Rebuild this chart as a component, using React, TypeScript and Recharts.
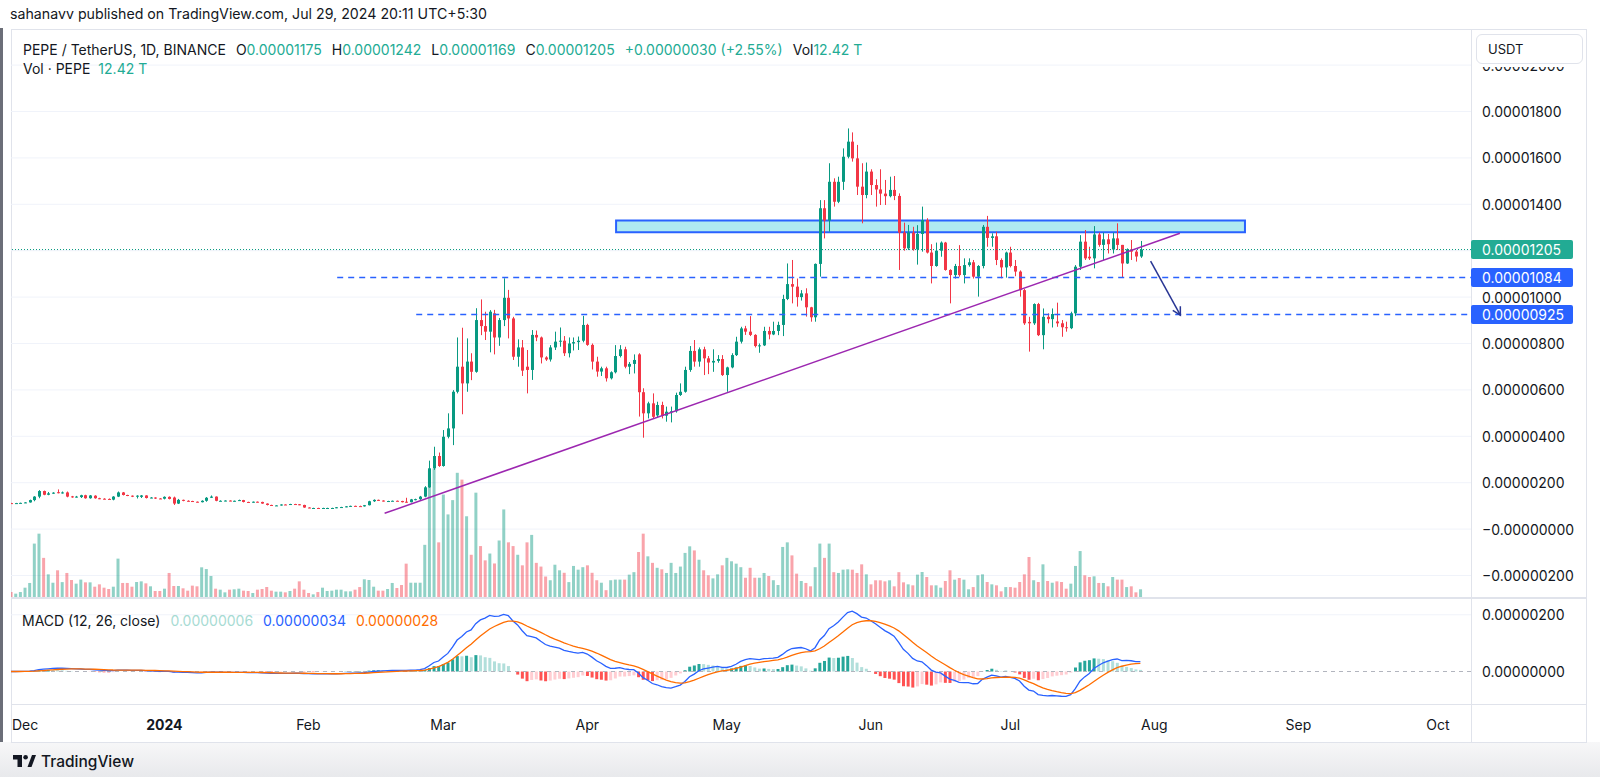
import React from 'react';
import { ComposedChart, Bar, Line, XAxis, YAxis, CartesianGrid, ReferenceLine, ReferenceArea, Cell } from 'recharts';

const FONT = 'Inter, "Noto Sans", sans-serif';
const TEXT = '#131722';
const UP = '#089981';
const DOWN = '#f23645';
const TEAL_TXT = '#22ab94';
const GRID = '#f0f3fa';
const BORDER = '#e0e3eb';

// One candle per day. Day numbers count from 2024-01-01, first candle is 2023-11-29.
// Prices are in units of 0.00000001 USDT, volume in trillions of PEPE.
const firstDay = -33;

const opens = [
  112, 111, 112, 113, 115, 125, 140, 164, 148, 154, 159, 155, 158, 141, 139, 138, 146, 133, 144, 133,
  131, 130, 127, 140, 158, 147, 144, 140, 139, 145, 134, 136, 132, 131, 139, 136, 110, 126, 122, 121,
  118, 116, 122, 135, 140, 122, 122, 123, 121, 122, 125, 117, 115, 118, 117, 110, 104, 101, 102, 106,
  105, 108, 107, 104, 93, 91, 91, 90, 90, 91, 91, 94, 95, 98, 100, 99, 98, 103, 120, 126,
  123, 120, 121, 122, 121, 118, 116, 127, 129, 140, 180, 262, 315, 272, 398, 434, 592, 700, 628, 722,
  678, 901, 875, 851, 930, 826, 901, 997, 908, 743, 783, 700, 686, 837, 826, 740, 731, 783, 808, 812,
  758, 800, 806, 812, 880, 794, 722, 679, 693, 650, 676, 746, 775, 700, 712, 753, 590, 499, 542, 490,
  535, 489, 504, 508, 578, 592, 686, 768, 722, 775, 736, 718, 725, 733, 664, 697, 750, 808, 865, 851,
  837, 789, 792, 854, 839, 854, 880, 992, 1056, 1045, 1000, 1016, 956, 913, 1143, 1383, 1330, 1497, 1411, 1497,
  1605, 1670, 1598, 1476, 1440, 1541, 1483, 1464, 1446, 1435, 1462, 1436, 1278, 1210, 1278, 1206, 1272, 1332, 1192, 1134,
  1200, 1235, 1117, 1095, 1134, 1095, 1138, 1150, 1088, 1134, 1303, 1255, 1262, 1160, 1128, 1192, 1134, 1110, 1030, 893,
  887, 970, 836, 915, 905, 895, 887, 870, 866, 930, 1131, 1239, 1174, 1167, 1270, 1225, 1249, 1205, 1253, 1225,
  1145, 1206, 1196, 1175,
];
const highs = [
  113, 113, 114, 116, 127, 142, 168, 166, 160, 159, 171, 162, 162, 143, 143, 148, 148, 147, 146, 135,
  133, 132, 142, 162, 160, 148, 145, 146, 147, 146, 138, 137, 134, 141, 141, 140, 130, 127, 124, 122,
  119, 124, 138, 145, 141, 124, 124, 124, 123, 127, 126, 118, 119, 119, 118, 111, 105, 103, 107, 107,
  109, 109, 108, 105, 94, 92, 92, 92, 92, 92, 95, 96, 99, 101, 101, 101, 104, 122, 128, 127,
  124, 122, 123, 123, 122, 135, 130, 131, 143, 185, 295, 355, 330, 427, 499, 599, 826, 868, 822, 758,
  952, 990, 937, 944, 945, 910, 1081, 1031, 915, 818, 815, 772, 858, 856, 830, 745, 793, 851, 869, 832,
  826, 826, 830, 919, 885, 800, 743, 700, 700, 680, 793, 793, 786, 720, 753, 758, 607, 549, 585, 549,
  549, 528, 528, 588, 628, 700, 789, 815, 783, 786, 746, 775, 750, 750, 700, 758, 829, 872, 876, 918,
  840, 800, 872, 872, 894, 894, 1010, 1145, 1160, 1080, 1030, 1038, 958, 1145, 1418, 1418, 1577, 1512, 1519, 1641,
  1727, 1710, 1656, 1577, 1580, 1551, 1508, 1551, 1505, 1519, 1522, 1447, 1321, 1311, 1303, 1310, 1390, 1340, 1228, 1235,
  1240, 1238, 1120, 1143, 1224, 1167, 1167, 1160, 1138, 1311, 1350, 1275, 1282, 1167, 1196, 1217, 1160, 1115, 1035, 915,
  973, 975, 951, 930, 951, 976, 901, 894, 937, 1138, 1267, 1289, 1217, 1306, 1278, 1278, 1272, 1278, 1318, 1225,
  1210, 1246, 1203, 1242,
];
const lows = [
  110, 110, 111, 112, 114, 120, 133, 146, 146, 152, 154, 153, 137, 135, 136, 134, 131, 131, 131, 129,
  128, 127, 124, 138, 145, 142, 138, 132, 134, 132, 133, 130, 130, 128, 128, 104, 108, 120, 119, 117,
  115, 115, 118, 134, 120, 120, 120, 120, 119, 121, 115, 114, 114, 115, 109, 102, 100, 100, 101, 104,
  104, 106, 103, 92, 90, 89, 89, 89, 88, 89, 90, 92, 94, 96, 98, 97, 97, 102, 117, 122,
  119, 119, 120, 120, 115, 114, 115, 124, 126, 137, 178, 255, 268, 269, 391, 362, 585, 495, 592, 642,
  674, 836, 815, 762, 753, 790, 875, 822, 729, 700, 660, 585, 643, 810, 714, 725, 722, 772, 786, 746,
  740, 770, 772, 805, 790, 688, 657, 660, 636, 645, 671, 740, 693, 668, 671, 485, 394, 477, 477, 480,
  477, 463, 460, 502, 574, 588, 678, 700, 700, 664, 668, 678, 717, 660, 592, 693, 746, 800, 837, 832,
  783, 760, 789, 818, 836, 836, 832, 987, 973, 959, 985, 916, 894, 894, 1088, 1253, 1282, 1390, 1405, 1462,
  1598, 1584, 1440, 1318, 1426, 1440, 1390, 1397, 1397, 1430, 1418, 1117, 1200, 1203, 1200, 1140, 1196, 1188, 1059, 1131,
  1174, 1114, 973, 1080, 1088, 1059, 1131, 1080, 1002, 1124, 1217, 1217, 1138, 1081, 1084, 1128, 1090, 1002, 880, 765,
  880, 832, 775, 887, 869, 872, 829, 851, 862, 918, 1117, 1160, 1160, 1124, 1217, 1160, 1188, 1188, 1203, 1084,
  1143, 1160, 1153, 1169,
];
const closes = [
  111, 112, 113, 115, 125, 140, 164, 148, 154, 157, 155, 158, 140, 139, 140, 146, 133, 145, 133, 131,
  130, 129, 140, 158, 147, 144, 140, 144, 145, 134, 136, 132, 131, 139, 130, 110, 126, 122, 121, 118,
  116, 122, 135, 140, 122, 122, 123, 121, 122, 125, 117, 115, 118, 117, 110, 104, 101, 102, 106, 105,
  108, 107, 104, 93, 91, 91, 90, 91, 91, 91, 94, 95, 98, 100, 99, 98, 103, 120, 126, 123,
  120, 121, 122, 121, 116, 116, 128, 129, 140, 180, 262, 315, 272, 398, 434, 592, 700, 628, 722, 678,
  901, 875, 851, 937, 826, 901, 997, 908, 743, 783, 683, 686, 837, 826, 740, 731, 783, 808, 812, 758,
  800, 806, 812, 880, 794, 722, 679, 693, 650, 676, 746, 775, 700, 712, 729, 590, 499, 542, 484, 535,
  489, 506, 508, 578, 592, 686, 768, 722, 775, 736, 718, 725, 733, 664, 697, 750, 808, 865, 851, 837,
  789, 792, 854, 839, 854, 880, 992, 1056, 1045, 1000, 1016, 956, 913, 1143, 1383, 1330, 1497, 1411, 1497, 1605,
  1670, 1598, 1476, 1440, 1541, 1483, 1464, 1446, 1435, 1462, 1436, 1278, 1210, 1278, 1206, 1272, 1332, 1192, 1134, 1200,
  1235, 1117, 1095, 1134, 1095, 1138, 1150, 1088, 1134, 1303, 1255, 1262, 1160, 1128, 1192, 1134, 1110, 1030, 887, 887,
  970, 836, 915, 905, 927, 887, 870, 866, 930, 1131, 1239, 1167, 1167, 1270, 1225, 1249, 1228, 1253, 1225, 1145,
  1206, 1196, 1175, 1205,
];
const volumes = [
  8, 5.4, 8, 15, 22.6, 86, 102, 63, 36.5, 23, 43, 24, 38.7, 27.4, 21.5, 28, 23.6, 23.6, 16.6, 20.4,
  15, 12.9, 16.6, 61.8, 22.6, 22.6, 16.6, 24.2, 25.2, 22, 17.2, 9.7, 9.7, 13.4, 38.7, 17.7, 17.7, 14, 10.2, 18.3,
  17.2, 47.8, 45, 33.8, 13.4, 11.8, 7.5, 11.8, 12.4, 13.4, 10.2, 9.7, 6.4, 11.8, 12.9, 16, 10.2, 8.6, 8.6, 7.5,
  9.7, 13.4, 25.2, 11.8, 6.4, 4.3, 8, 15, 9.7, 10.2, 11.8, 11.8, 9.1, 9.1, 11.8, 16, 28.5, 27.4, 16.6, 10.2,
  10.2, 12.9, 22.6, 14.5, 19.3, 53.7, 23, 23, 23, 84, 204, 207, 88, 165, 133, 156, 200, 189, 130, 68,
  168, 82, 59, 70, 54, 91, 141, 88, 82, 68, 51, 88, 100, 55, 49, 33, 27, 52, 43, 39,
  24, 50, 44, 48, 51, 39, 27, 23, 11, 27, 28, 28, 28, 36, 40, 72.5, 102, 65.5, 55, 47,
  44.6, 38.7, 55, 38.7, 49, 71, 81.6, 75, 60, 43, 35, 30, 36.5, 51, 63, 57.5, 53.7, 48, 31, 47,
  31, 31, 38.7, 33.8, 27, 19.3, 80.6, 88, 67, 37.6, 25.8, 22.6, 17.2, 48, 86, 63, 86, 40, 38.7, 44,
  44.6, 44, 38.7, 52.6, 36.5, 20.4, 26.9, 26.9, 25.2, 26.9, 17.2, 40, 23.6, 20.4, 18.8, 36, 40.3, 32.2, 18.8, 18.8,
  15, 25.8, 43, 27.9, 30.6, 27.9, 12.4, 16, 35, 36.5, 24.2, 20.4, 18.8, 9.1, 16, 16, 15, 24.2, 36.5, 64.4,
  26.9, 24.2, 52.6, 25.8, 23, 25.2, 24.2, 13.4, 21.5, 50, 74, 35, 32.2, 33.3, 22.6, 22.6, 17.2, 32.2, 28, 28,
  16, 17.2, 7.5, 12.42,
];

const monthTicks = [-31, 0, 31, 60, 91, 121, 152, 182, 213, 244, 274];
const monthLabels = ['Dec', '2024', 'Feb', 'Mar', 'Apr', 'May', 'Jun', 'Jul', 'Aug', 'Sep', 'Oct'];
const priceTicks = [-200, 0, 200, 400, 600, 800, 1000, 1400, 1600, 1800, 2000];
const priceLabels = ['−0.00000200', '−0.00000000', '0.00000200', '0.00000400', '0.00000600', '0.00000800',
  '0.00001000', '0.00001400', '0.00001600', '0.00001800', '0.00002000'];
const gridLevels = [-200, 0, 200, 400, 600, 800, 1000, 1200, 1400, 1600, 1800, 2000];
const macdTicks = [0, 200];
const macdLabels = ['0.00000000', '0.00000200'];

// drawings
const lastPrice = 1205;
const supportLevels = [1084, 925];
const supportStarts = [37.2, 54.2];
const supportLabels = ['0.00001084', '0.00000925'];
const zone = { x1: 97.2, x2: 232.5, y1: 1280, y2: 1330 };
const trendLine = [{ x: 47.4, y: 68 }, { x: 218.5, y: 1275 }];
const arrowLine = [{ x: 212.2, y: 1155 }, { x: 218.6, y: 922 }];

const xDomain = [-32.98, 281.13];
const priceDomain = [-292.7, 2151.3];
const volDomain = [0, 913];
const macdDomain = [-114.6, 259.3];

// MACD (12, 26, close)
const ema = (src: number[], n: number) => {
  const k = 2 / (n + 1);
  const out: number[] = [];
  src.forEach((v, i) => out.push(i === 0 ? v : v * k + out[i - 1] * (1 - k)));
  return out;
};
const ema12 = ema(closes, 12);
const ema26 = ema(closes, 26);
const macdLine = closes.map((_, i) => ema12[i] - ema26[i]);
const signalLine = ema(macdLine, 9);
const histogram = macdLine.map((m, i) => m - signalLine[i]);

const histColor = (i: number) => {
  const h = histogram[i];
  const prev = i > 0 ? histogram[i - 1] : h;
  if (h >= 0) return h >= prev ? '#26a69a' : '#b2dfdb';
  return h < prev ? '#ff5252' : '#ffcdd2';
};

const rows = opens.map((o, i) => ({
  day: firstDay + i,
  o,
  h: highs[i],
  l: lows[i],
  c: closes[i],
  range: [lows[i], highs[i]],
  vol: volumes[i],
  macd: macdLine[i],
  signal: signalLine[i],
  hist: histogram[i],
}));

const Candle = (props: any) => {
  const { x, y, width, height, payload } = props;
  if (x == null || !payload) return null;
  const { o, h, l, c } = payload;
  const cx = Math.round(x + width / 2) + 0.5;
  const k = h > l ? height / (h - l) : 0;
  const yo = y + (h - o) * k;
  const yc = y + (h - c) * k;
  const col = c >= o ? UP : DOWN;
  const top = Math.min(yo, yc);
  const bh = Math.max(1, Math.abs(yo - yc));
  return (
    <g>
      <line x1={cx} x2={cx} y1={y} y2={y + height} stroke={col} strokeWidth={1} />
      <rect x={cx - 1.5} y={top} width={3} height={bh} fill={col} />
    </g>
  );
};

const PriceTick = (props: any) => {
  const { x, y, payload } = props;
  const i = priceTicks.indexOf(payload.value);
  return (
    <text x={x} y={y} dominantBaseline="central" fontSize={14} fill={TEXT} fontFamily={FONT}>{priceLabels[i]}</text>
  );
};

const MacdTick = (props: any) => {
  const { x, y, payload } = props;
  const i = macdTicks.indexOf(payload.value);
  return (
    <text x={x} y={y} dominantBaseline="central" fontSize={14} fill={TEXT} fontFamily={FONT}>{macdLabels[i]}</text>
  );
};

const MonthTick = (props: any) => {
  const { x, y, payload, index } = props;
  const i = monthTicks.indexOf(payload.value);
  const label = monthLabels[i];
  // the first label is pushed inside the pane, as TradingView does at the left edge
  const first = index === 0 || i === 0;
  return (
    <text x={first ? Math.max(x - 12, 1) : x} y={y + 20.5} textAnchor={first ? 'start' : 'middle'} dominantBaseline="central" fontSize={14}
      fontWeight={label === '2024' ? 700 : 400} fill={TEXT} fontFamily={FONT}>{label}</text>
  );
};

const PriceTag = (props: any) => {
  const { viewBox, color, text } = props;
  if (!viewBox) return null;
  const left = viewBox.x + viewBox.width;
  const y = viewBox.y;
  return (
    <g>
      <rect x={left} y={y - 9.5} width={102} height={19} rx={2} fill={color} />
      <text x={left + 11} y={y} dominantBaseline="central" fontSize={14} fill="#fff" fontFamily={FONT}>{text}</text>
    </g>
  );
};

const ArrowShape = (props: any) => {
  const { x1, y1, x2, y2 } = props;
  if (x1 == null) return null;
  const ang = Math.atan2(y2 - y1, x2 - x1);
  const len = 9;
  const spread = 0.5;
  const ax = x2 - len * Math.cos(ang - spread);
  const ay = y2 - len * Math.sin(ang - spread);
  const bx = x2 - len * Math.cos(ang + spread);
  const by = y2 - len * Math.sin(ang + spread);
  return (
    <g>
      <line x1={x1} y1={y1} x2={x2} y2={y2} stroke="#283593" strokeWidth={1.5} />
      <polyline points={`${ax},${ay} ${x2},${y2} ${bx},${by}`} fill="none" stroke="#283593" strokeWidth={1.5} />
    </g>
  );
};

const legendGap = { marginRight: 10 };

export default function App() {
  return (
    <div style={{ position: 'absolute', left: 0, top: 0, width: 1600, height: 777, background: '#fff', overflow: 'hidden', fontFamily: FONT, color: TEXT }}>
      <div style={{ position: 'absolute', left: 10, top: 5, fontSize: 14.2, lineHeight: '18px', whiteSpace: 'nowrap' }}>
        sahanavv published on TradingView.com, Jul 29, 2024 20:11 UTC+5:30
      </div>

      <div style={{ position: 'absolute', left: 0, top: 28, width: 2.5, height: 749, background: '#6b6e78' }} />
      <div style={{ position: 'absolute', left: 0, top: 742, width: 1600, height: 35, background: 'linear-gradient(#f7f7f8, #e8e9ec)' }} />
      <div style={{ position: 'absolute', left: 11, top: 29, width: 1576, height: 714, border: `1px solid ${BORDER}`, boxSizing: 'border-box' }} />
      <div style={{ position: 'absolute', left: 1471, top: 29, width: 1, height: 714, background: BORDER }} />
      <div style={{ position: 'absolute', left: 11, top: 597, width: 1576, height: 2, background: BORDER }} />
      <div style={{ position: 'absolute', left: 11, top: 704, width: 1576, height: 1, background: BORDER }} />

      <div style={{ position: 'absolute', left: 11, top: 30 }}>
        <ComposedChart width={1576} height={567} data={rows} margin={{ top: 0, right: 0, bottom: 0, left: 0 }}>
          <CartesianGrid xAxisId="xc" yAxisId="price" vertical={false} stroke={GRID} horizontalValues={gridLevels} />
          <XAxis xAxisId="xc" dataKey="day" type="number" domain={xDomain} allowDataOverflow hide />
          <XAxis xAxisId="xv" dataKey="day" type="number" domain={xDomain} allowDataOverflow hide />
          <YAxis yAxisId="price" orientation="right" width={116} domain={priceDomain} allowDataOverflow
            ticks={priceTicks} interval={0} tick={<PriceTick />} axisLine={false} tickLine={false} tickSize={0} tickMargin={11} />
          <YAxis yAxisId="vol" hide domain={volDomain} allowDataOverflow />

          <Bar xAxisId="xv" yAxisId="vol" dataKey="vol" barSize={3} isAnimationActive={false}>
            {rows.map((r, i) => (
              <Cell key={i} fill={r.c >= r.o ? UP : DOWN} fillOpacity={0.45} />
            ))}
          </Bar>

          <ReferenceArea xAxisId="xc" yAxisId="price" x1={zone.x1} x2={zone.x2} y1={zone.y1} y2={zone.y2}
            fill="#4dd0e1" fillOpacity={0.45} stroke="#2962ff" strokeWidth={2} />

          <Bar xAxisId="xc" yAxisId="price" dataKey="range" barSize={3} shape={<Candle />} isAnimationActive={false} />

          <ReferenceLine xAxisId="xc" yAxisId="price" y={lastPrice} stroke={UP} strokeDasharray="1 2"
            label={<PriceTag color={TEAL_TXT} text="0.00001205" />} />
          {supportLevels.map((lv, i) => (
            <ReferenceLine key={lv} xAxisId="xc" yAxisId="price"
              segment={[{ x: supportStarts[i], y: lv }, { x: xDomain[1], y: lv }]}
              stroke="#2962ff" strokeWidth={1.5} strokeDasharray="6 5"
              label={<PriceTag color="#2962ff" text={supportLabels[i]} />} />
          ))}
          <ReferenceLine xAxisId="xc" yAxisId="price" segment={trendLine} stroke="#9c27b0" strokeWidth={1.5} />
          <ReferenceLine xAxisId="xc" yAxisId="price" segment={arrowLine} shape={<ArrowShape />} />
        </ComposedChart>
      </div>

      <div style={{ position: 'absolute', left: 11, top: 598 }}>
        <ComposedChart width={1576} height={144} data={rows} margin={{ top: 0, right: 0, bottom: 0, left: 0 }}>
          <CartesianGrid xAxisId="m" yAxisId="m" vertical={false} stroke={GRID} horizontalValues={[200]} />
          <XAxis xAxisId="m" dataKey="day" type="number" domain={xDomain} allowDataOverflow ticks={monthTicks}
            interval={0} tick={<MonthTick />} axisLine={false} tickLine={false} tickSize={0} tickMargin={0} height={38} />
          <YAxis yAxisId="m" orientation="right" width={116} domain={macdDomain} allowDataOverflow ticks={macdTicks}
            interval={0} tick={<MacdTick />} axisLine={false} tickLine={false} tickSize={0} tickMargin={11} />
          <ReferenceLine xAxisId="m" yAxisId="m" y={0} stroke="#b2b5be" strokeDasharray="4 4" />
          <Bar xAxisId="m" yAxisId="m" dataKey="hist" barSize={3} isAnimationActive={false}>
            {rows.map((_, i) => (
              <Cell key={i} fill={histColor(i)} />
            ))}
          </Bar>
          <Line xAxisId="m" yAxisId="m" type="linear" dataKey="macd" stroke="#2962ff" strokeWidth={1.3} dot={false} isAnimationActive={false} />
          <Line xAxisId="m" yAxisId="m" type="linear" dataKey="signal" stroke="#ff6d00" strokeWidth={1.3} dot={false} isAnimationActive={false} />
        </ComposedChart>
      </div>

      <div style={{ position: 'absolute', left: 23, top: 41, fontSize: 14, lineHeight: '18px', whiteSpace: 'nowrap' }}>
        <span style={legendGap}>PEPE / TetherUS, 1D, BINANCE</span>
        <span style={legendGap}>O<span style={{ color: TEAL_TXT }}>0.00001175</span></span>
        <span style={legendGap}>H<span style={{ color: TEAL_TXT }}>0.00001242</span></span>
        <span style={legendGap}>L<span style={{ color: TEAL_TXT }}>0.00001169</span></span>
        <span style={legendGap}>C<span style={{ color: TEAL_TXT }}>0.00001205</span></span>
        <span style={{ ...legendGap, color: TEAL_TXT }}>+0.00000030 (+2.55%)</span>
        <span>Vol<span style={{ color: TEAL_TXT }}>12.42 T</span></span>
      </div>
      <div style={{ position: 'absolute', left: 23, top: 60, fontSize: 14, lineHeight: '18px', whiteSpace: 'nowrap' }}>
        <span style={{ marginRight: 8 }}>Vol · PEPE</span>
        <span style={{ color: TEAL_TXT }}>12.42 T</span>
      </div>

      <div style={{ position: 'absolute', left: 22, top: 612, fontSize: 14, lineHeight: '18px', whiteSpace: 'nowrap' }}>
        <span style={{ marginRight: 10 }}>MACD (12, 26, close)</span>
        <span style={{ marginRight: 10, color: '#a7dbd3' }}>0.00000006</span>
        <span style={{ marginRight: 10, color: '#2962ff' }}>0.00000034</span>
        <span style={{ color: '#ff6d00' }}>0.00000028</span>
      </div>

      <div style={{ position: 'absolute', left: 1472, top: 30, width: 114, height: 36.5, background: '#fff' }} />
      <div style={{ position: 'absolute', left: 1476, top: 34, width: 107, height: 30, border: `1px solid ${BORDER}`, borderRadius: 6,
        background: '#fff', boxSizing: 'border-box', fontSize: 13, lineHeight: '28px', paddingLeft: 11 }}>
        USDT
      </div>

      <svg style={{ position: 'absolute', left: 0, top: 745 }} width={140} height={30}>
        <path d="M13 10 H22 V22 H17.5 V14.5 H13 Z" fill={TEXT} />
        <circle cx={25.6} cy={12.3} r={2.3} fill={TEXT} />
        <path d="M27.5 22 L32 10 L36 10 L31.5 22 Z" fill={TEXT} />
        <text x={41} y={21.5} fontSize={15.5} fontWeight={500} fill={TEXT} fontFamily={FONT}>TradingView</text>
      </svg>
    </div>
  );
}
